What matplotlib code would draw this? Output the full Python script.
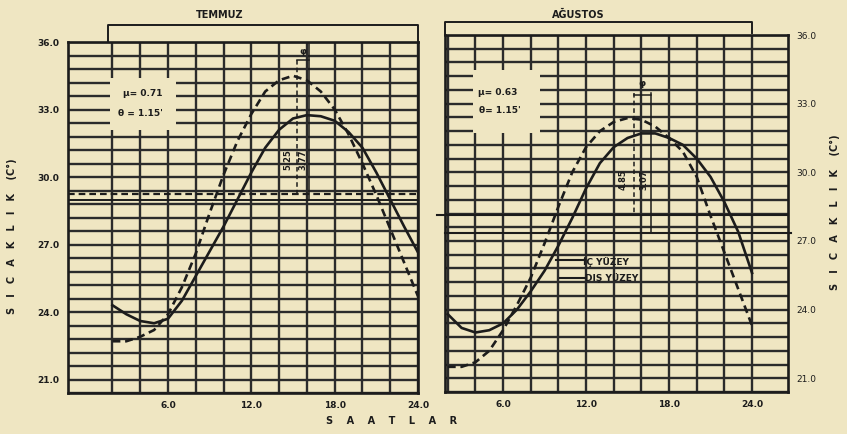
import numpy as np
import matplotlib.pyplot as plt
from matplotlib.patches import Rectangle

# values (hour, temperature C)
hours = [2, 3, 4, 5, 6, 7, 8, 9, 10, 11, 12, 13, 14, 15, 16, 17, 18, 19, 20, 21, 22, 23, 24]

jul_inner = [24.3, 23.9, 23.6, 23.5, 23.7, 24.5, 25.6, 26.7, 27.8, 29.0, 30.2, 31.3,
             32.1, 32.6, 32.75, 32.7, 32.5, 32.0, 31.3, 30.2, 29.0, 27.8, 26.65]
jul_outer = [22.7, 22.7, 22.9, 23.2, 23.9, 25.1, 26.6, 28.4, 30.1, 31.6, 32.8, 33.8,
             34.3, 34.5, 34.3, 33.8, 33.0, 31.9, 30.6, 29.2, 27.7, 26.2, 24.7]
aug_inner = [23.8, 23.2, 23.0, 23.1, 23.4, 24.0, 24.8, 25.7, 26.8, 28.0, 29.3, 30.4,
             31.1, 31.5, 31.7, 31.7, 31.5, 31.2, 30.6, 29.8, 28.7, 27.4, 25.6]
aug_outer = [21.5, 21.5, 21.7, 22.2, 23.1, 24.2, 25.4, 26.9, 28.5, 30.0, 31.1, 31.8,
             32.2, 32.37, 32.3, 32.0, 31.5, 30.9, 29.8, 28.1, 26.5, 24.9, 23.3]

# mean lines, peak times and amplitudes
jul_mean_outer, jul_mean_inner = 29.25, 28.97
aug_mean_outer, aug_mean_inner = 28.13, 27.34
jul_peak_outer, jul_peak_inner = 15.3, 16.15
aug_peak_outer, aug_peak_inner = 15.43, 16.67
jul_amp = ["5.25", "3.77"]
aug_amp = ["4.85", "3.07"]
jul_params = ["\u03bc= 0.71", "\u03b8 = 1.15'"]
aug_params = ["\u03bc= 0.63", "\u03b8= 1.15'"]

yticks = [21, 24, 27, 30, 33, 36]
xticks = [6, 12, 18, 24]

PAPER = "#EFE6C2"
INK = "#1c1c1c"
GRID = "#2b2b2b"

W, H = 847, 434
fig = plt.figure(figsize=(W / 100, H / 100), dpi=100, facecolor=PAPER)


def box(x0, y0, x1, y1):
    return [x0 / W, 1 - y1 / H, (x1 - x0) / W, (y1 - y0) / H]


ax1 = fig.add_axes(box(68, 42, 418, 393))
ax2 = fig.add_axes(box(445, 35, 788, 392))

ax1.set_xlim(-1.2, 24)
ax2.set_xlim(1.8, 26.6)

for ax in (ax1, ax2):
    ax.set_facecolor(PAPER)
    ax.set_ylim(20.4, 36.0)
    ax.set_yticks(yticks)
    ax.set_yticklabels(["%.1f" % v for v in yticks])
    ax.set_yticks(np.arange(20.4, 36.01, 0.6), minor=True)
    ax.set_xticks(xticks)
    ax.set_xticklabels(["%.1f" % v for v in xticks])
    ax.set_xticks(np.arange(2, 24, 2), minor=True)
    ax.grid(which="both", color=GRID, lw=1.7)
    ax.set_axisbelow(True)
    ax.tick_params(which="both", length=0, labelsize=6.5, pad=6, colors=INK)
    for lab in ax.get_xticklabels() + ax.get_yticklabels():
        lab.set_fontweight("bold")
    for s in ax.spines.values():
        s.set_linewidth(1.9)
        s.set_color(INK)

ax2.yaxis.tick_right()

# blank patches behind the parameter notes
ax1.add_patch(Rectangle((1.83, 32.09), 4.75, 2.31, fc=PAPER, ec="none", zorder=2))
ax2.add_patch(Rectangle((3.84, 31.72), 4.86, 2.75, fc=PAPER, ec="none", zorder=2))

# curves
ax1.plot(hours, jul_inner, color=INK, lw=1.9, zorder=4)
ax1.plot(hours, jul_outer, color=INK, lw=1.9, dashes=(3, 1.8), zorder=4)
ax2.plot(hours, aug_inner, color=INK, lw=1.9, zorder=4)
ax2.plot(hours, aug_outer, color=INK, lw=1.9, dashes=(3, 1.8), zorder=4)

# mean lines
ax1.axhline(jul_mean_outer, color=INK, lw=1.6, dashes=(3, 1.8), zorder=3)
ax1.axhline(jul_mean_inner, color=INK, lw=1.4, zorder=3)
ax2.plot([1.2, 26.6], [aug_mean_outer] * 2, color=INK, lw=1.5, clip_on=False, zorder=3)
ax2.plot([1.8, 26.8], [aug_mean_inner] * 2, color=INK, lw=1.5, clip_on=False, zorder=3)

# amplitude / time-lag markers
ax1.plot([jul_peak_outer] * 2, [35.2, jul_mean_outer], color=INK, lw=1.1, dashes=(3, 2), zorder=5)
ax1.plot([jul_peak_inner] * 2, [36.0, jul_mean_inner], color=INK, lw=1.1, zorder=5)
ax1.plot([jul_peak_outer, jul_peak_inner], [35.2, 35.2], color=INK, lw=1.1, zorder=5)
ax1.text((jul_peak_outer + jul_peak_inner) / 2, 35.6, "\u03c6", ha="center", va="center",
         fontsize=6.5, fontweight="bold", color=INK, zorder=6)
ax1.text(14.64, 30.76, jul_amp[0], rotation=90, ha="center", va="center",
         fontsize=6, fontweight="bold", color=INK, zorder=6)
ax1.text(15.72, 30.76, jul_amp[1], rotation=90, ha="center", va="center",
         fontsize=6, fontweight="bold", color=INK, zorder=6)

ax2.plot([aug_peak_outer] * 2, [33.45, aug_mean_outer], color=INK, lw=1.1, dashes=(3, 2), zorder=5)
ax2.plot([aug_peak_inner] * 2, [33.45, aug_mean_inner], color=INK, lw=1.1, zorder=5)
ax2.plot([aug_peak_outer, aug_peak_inner], [33.4, 33.4], color=INK, lw=1.1, zorder=5)
ax2.text((aug_peak_outer + aug_peak_inner) / 2, 33.9, "\u03c6", ha="center", va="center",
         fontsize=6.5, fontweight="bold", color=INK, zorder=6)
ax2.text(14.7, 29.66, aug_amp[0], rotation=90, ha="center", va="center",
         fontsize=6, fontweight="bold", color=INK, zorder=6)
ax2.text(16.16, 29.66, aug_amp[1], rotation=90, ha="center", va="center",
         fontsize=6, fontweight="bold", color=INK, zorder=6)

# parameter notes
ax1.text(4.2, 33.73, jul_params[0], ha="center", va="center", fontsize=6.5,
         fontweight="bold", color=INK, zorder=6)
ax1.text(4.0, 32.84, jul_params[1], ha="center", va="center", fontsize=6.5,
         fontweight="bold", color=INK, zorder=6)
ax2.text(5.6, 33.5, aug_params[0], ha="center", va="center", fontsize=6.5,
         fontweight="bold", color=INK, zorder=6)
ax2.text(5.8, 32.68, aug_params[1], ha="center", va="center", fontsize=6.5,
         fontweight="bold", color=INK, zorder=6)

# legend drawn as leaders + labels
ax2.plot([9.8, 11.9], [26.17, 26.17], color=INK, lw=1.5, zorder=5)
ax2.plot([10.1, 11.9], [25.38, 25.38], color=INK, lw=1.5, zorder=5)
ax2.text(11.8, 26.1, "\u0130\u00c7 Y\u00dcZEY", ha="left", va="center", fontsize=6.5,
         fontweight="bold", color=INK, zorder=6)
ax2.text(11.9, 25.38, "DI\u015e Y\u00dcZEY", ha="left", va="center", fontsize=6.5,
         fontweight="bold", color=INK, zorder=6)

# month brackets
ax1.plot([1.7, 1.7, 24, 24], [36.0, 36.75, 36.75, 36.0], color=INK, lw=1.4, clip_on=False)
ax2.plot([1.8, 1.8, 24, 24], [36.0, 36.57, 36.57, 36.1], color=INK, lw=1.4, clip_on=False)
fig.text(220 / W, 1 - 15 / H, "TEMMUZ", ha="center", va="center", fontsize=7,
         fontweight="bold", color=INK)
fig.text(578 / W, 1 - 15 / H, "A\u011eUSTOS", ha="center", va="center", fontsize=7,
         fontweight="bold", color=INK)

# axis titles
ylab = "S   I   C   A   K   L   I   K    (C\u00b0)"
fig.text(12 / W, 1 - 236 / H, ylab, rotation=90, ha="center", va="center",
         fontsize=7, fontweight="bold", color=INK)
fig.text(835 / W, 1 - 212 / H, ylab, rotation=90, ha="center", va="center",
         fontsize=7, fontweight="bold", color=INK)
fig.text(392 / W, 1 - 421 / H, "S    A    A    T    L    A    R", ha="center",
         va="center", fontsize=7, fontweight="bold", color=INK)

fig.savefig("out.png", dpi=100, facecolor=PAPER)
